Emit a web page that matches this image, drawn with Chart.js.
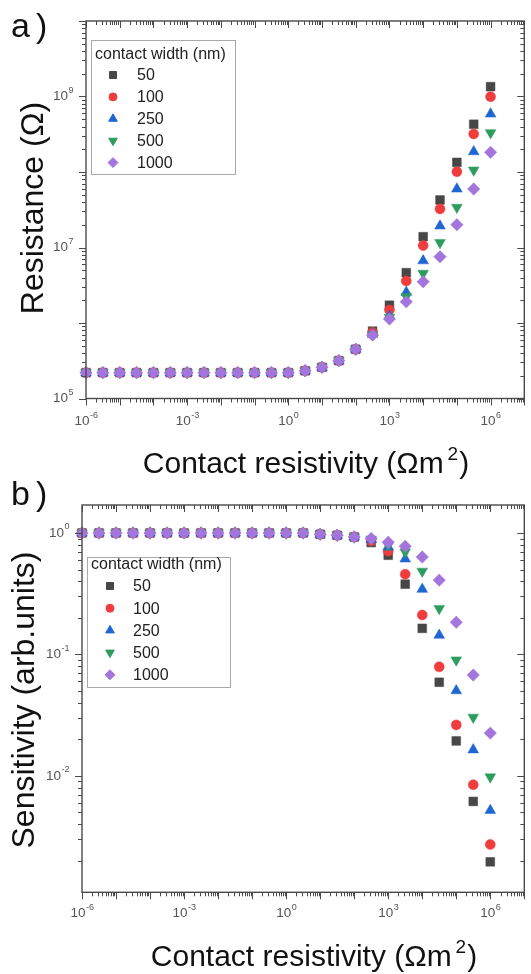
<!DOCTYPE html>
<html>
<head>
<meta charset="utf-8">
<script src="https://cdn.jsdelivr.net/npm/chart.js@4.4.1/dist/chart.umd.min.js"></script>
<style>
  html, body { margin: 0; padding: 0; background: #fff; }
  #wrap { position: relative; width: 531px; height: 974px; overflow: hidden; }
  canvas { position: absolute; left: 0; }
</style>
</head>
<body>
<div id="wrap">
  <canvas id="chartR" width="531" height="480" style="top:0"></canvas>
  <canvas id="chartS" width="531" height="494" style="top:480px"></canvas>
</div>
<script>
// --- data -------------------------------------------------------------
const contactRes = [1e-6, 3.16e-6, 1e-5, 3.16e-5, 1e-4, 3.16e-4, 1e-3, 3.16e-3, 1e-2, 3.16e-2,
                    0.1, 0.316, 1, 3.16, 10, 31.6, 100, 316, 1e3, 3.16e3, 1e4, 3.16e4, 1e5, 3.16e5, 1e6];
const widths = ["50", "100", "250", "500", "1000"];

// a) Resistance (Ω)
const res50   = [2.2e5, 2.2e5, 2.2e5, 2.2e5, 2.2e5, 2.2e5, 2.2e5, 2.2e5, 2.2e5, 2.2e5, 2.2e5, 2.2e5, 2.2e5,
                 2.33e5, 2.59e5, 3.17e5, 4.49e5, 7.8e5, 1.72e6, 4.64e6, 1.39e7, 4.26e7, 1.34e8, 4.29e8, 1.35e9];
const res100  = [2.2e5, 2.2e5, 2.2e5, 2.2e5, 2.2e5, 2.2e5, 2.2e5, 2.2e5, 2.2e5, 2.2e5, 2.2e5, 2.2e5, 2.2e5,
                 2.33e5, 2.59e5, 3.17e5, 4.49e5, 7.5e5, 1.49e6, 3.6e6, 1.06e7, 3.24e7, 1.01e8, 3.19e8, 9.93e8];
const res250  = [2.2e5, 2.2e5, 2.2e5, 2.2e5, 2.2e5, 2.2e5, 2.2e5, 2.2e5, 2.2e5, 2.2e5, 2.2e5, 2.2e5, 2.2e5,
                 2.33e5, 2.59e5, 3.17e5, 4.49e5, 7.1e5, 1.23e6, 2.55e6, 6.68e6, 1.93e7, 5.96e7, 1.86e8, 5.87e8];
const res500  = [2.2e5, 2.2e5, 2.2e5, 2.2e5, 2.2e5, 2.2e5, 2.2e5, 2.2e5, 2.2e5, 2.2e5, 2.2e5, 2.2e5, 2.2e5,
                 2.33e5, 2.59e5, 3.17e5, 4.49e5, 7.0e5, 1.19e6, 2.23e6, 4.55e6, 1.16e7, 3.4e7, 1.06e8, 3.31e8];
const res1000 = [2.2e5, 2.2e5, 2.2e5, 2.2e5, 2.2e5, 2.2e5, 2.2e5, 2.2e5, 2.2e5, 2.2e5, 2.2e5, 2.2e5, 2.2e5,
                 2.33e5, 2.59e5, 3.17e5, 4.49e5, 6.9e5, 1.13e6, 1.91e6, 3.52e6, 7.55e6, 2.0e7, 5.96e7, 1.82e8];

// b) Sensitivity (arb. units)
const sens50   = [1, 1, 1, 1, 1, 1, 1, 1, 1, 1, 1, 1, 1, 1,
                  0.976, 0.957, 0.927, 0.834, 0.656, 0.379, 0.164, 0.059, 0.0194, 0.00616, 0.00196];
const sens100  = [1, 1, 1, 1, 1, 1, 1, 1, 1, 1, 1, 1, 1, 1,
                  0.976, 0.957, 0.927, 0.86, 0.707, 0.458, 0.211, 0.079, 0.0263, 0.00845, 0.00272];
const sens250  = [1, 1, 1, 1, 1, 1, 1, 1, 1, 1, 1, 1, 1, 1,
                  0.976, 0.957, 0.927, 0.88, 0.767, 0.612, 0.344, 0.144, 0.0503, 0.0164, 0.0052];
const sens500  = [1, 1, 1, 1, 1, 1, 1, 1, 1, 1, 1, 1, 1, 1,
                  0.976, 0.957, 0.927, 0.89, 0.79, 0.698, 0.484, 0.239, 0.09, 0.0304, 0.0098];
const sens1000 = [1, 1, 1, 1, 1, 1, 1, 1, 1, 1, 1, 1, 1, 1,
                  0.976, 0.957, 0.927, 0.90, 0.84, 0.778, 0.635, 0.409, 0.184, 0.0677, 0.0225];

const xLabelExps  = [-6, -3, 0, 3, 6];
const yLabelExpsA = [5, 7, 9];
const yLabelExpsB = [0, -1, -2];

// --- styles ------------------------------------------------------------
const FONT = '"Liberation Sans", Arial, sans-serif';
const AXIS = "#4a4a4a";
const TICKTXT = "#555";
const marks = [
  { color: "#474747", style: "rect",     rot: 0,   r: 6.2 },
  { color: "#ef3d3d", style: "circle",   rot: 0,   r: 5 },
  { color: "#1f66d3", style: "triangle", rot: 0,   r: 6.2 },
  { color: "#2e9c60", style: "triangle", rot: 180, r: 6.2 },
  { color: "#a475dc", style: "rectRot",  rot: 0,   r: 6.2 },
];

function makeSets(series) {
  return series.map((vals, i) => ({
    label: widths[i],
    data: contactRes.map((x, k) => ({ x, y: vals[k] })),
    showLine: false,
    pointStyle: marks[i].style,
    pointRotation: marks[i].rot,
    pointRadius: marks[i].r,
    pointBackgroundColor: marks[i].color,
    pointBorderColor: marks[i].color,
    pointBorderWidth: 0.5,
    order: series.length - i,   // 1000 drawn on top
    clip: false,
  }));
}

// log tick positions 1..9 x 10^e inside [min,max]
function logTicks(min, max) {
  const out = [];
  for (let e = Math.floor(Math.log10(min)); e <= Math.ceil(Math.log10(max)); e++) {
    for (let m = 1; m <= 9; m++) {
      const v = m * Math.pow(10, e);
      if (v >= min * 0.9999 && v <= max * 1.0001) out.push({ v, major: m === 1, e });
    }
  }
  return out;
}

// "10" with raised exponent; align "center" or "right"
function powLabel(ctx, x, y, exp, align) {
  ctx.font = "13.5px " + FONT;
  const wb = ctx.measureText("10").width;
  ctx.font = "9px " + FONT;
  const sup = String(exp);
  const ws = ctx.measureText(sup).width;
  const x0 = align === "center" ? x - (wb + ws) / 2 : x - wb - ws;
  ctx.textAlign = "left";
  ctx.textBaseline = "middle";
  ctx.fillStyle = TICKTXT;
  ctx.font = "13.5px " + FONT;
  ctx.fillText("10", x0, y);
  ctx.font = "9px " + FONT;
  ctx.fillText(sup, x0 + wb + 0.5, y - 6);
}

// frame, Origin-style ticks, labels, titles and legend box
const frameAxes = {
  id: "frameAxes",
  afterDatasetsDraw(chart, args, o) {
    const { ctx, chartArea: a, scales: { x, y } } = chart;
    ctx.save();
    ctx.strokeStyle = AXIS;
    ctx.lineWidth = 1.4;
    ctx.strokeRect(a.left, a.top, a.right - a.left, a.bottom - a.top);
    ctx.lineWidth = 1;
    ctx.beginPath();
    logTicks(x.min, x.max).forEach(t => {
      const px = Math.round(x.getPixelForValue(t.v)) + 0.5;
      const len = t.major ? 7 : 4;
      ctx.moveTo(px, a.bottom); ctx.lineTo(px, a.bottom + len);   // outward
      ctx.moveTo(px, a.top);    ctx.lineTo(px, a.top + len);      // mirror, inward
    });
    logTicks(y.min, y.max).forEach(t => {
      const py = Math.round(y.getPixelForValue(t.v)) + 0.5;
      const len = t.major ? 7 : 4;
      ctx.moveTo(a.left, py);  ctx.lineTo(a.left - len, py);
      ctx.moveTo(a.right, py); ctx.lineTo(a.right - len, py);
    });
    ctx.stroke();

    xLabelExps.forEach(e => powLabel(ctx, x.getPixelForValue(Math.pow(10, e)), a.bottom + o.xLabGap, e, "center"));
    o.yLabels.forEach(e => powLabel(ctx, a.left - 13, y.getPixelForValue(Math.pow(10, e)), e, "right"));

    // x title with superscript 2
    ctx.fillStyle = "#111";
    ctx.textBaseline = "alphabetic";
    ctx.textAlign = "left";
    const big = o.titleSize + "px " + FONT, small = Math.round(o.titleSize * 0.62) + "px " + FONT;
    ctx.font = big;
    const p1 = "Contact resistivity (\u03a9m", p3 = ")";
    const w1 = ctx.measureText(p1).width, w3 = ctx.measureText(p3).width;
    ctx.font = small;
    const w2 = ctx.measureText("2").width;
    const tw = w1 + 4 + w2 + 1 + w3;
    let tx = o.xTitleX - tw / 2;
    ctx.font = big;   ctx.fillText(p1, tx, o.xTitleY);
    ctx.font = small; ctx.fillText("2", tx + w1 + 4, o.xTitleY - o.titleSize * 0.42);
    ctx.font = big;   ctx.fillText(p3, tx + w1 + 4 + w2 + 1, o.xTitleY);

    // y title
    ctx.save();
    ctx.translate(o.yTitleX, o.yTitleY);
    ctx.rotate(-Math.PI / 2);
    ctx.textAlign = "center";
    ctx.font = o.yTitleSize + "px " + FONT;
    ctx.fillText(o.yTitle, 0, 0);
    ctx.restore();

    // panel letter
    ctx.font = "34px " + FONT;
    ctx.fillText(o.letter, 11, o.letterY);
    ctx.fillText(")", 36, o.letterY);

    // legend
    const L = o.legend;
    ctx.fillStyle = "#fff";
    ctx.fillRect(L.x, L.y, L.w, L.h);
    ctx.strokeStyle = "#a8a8a8";
    ctx.lineWidth = 1;
    ctx.strokeRect(L.x + 0.5, L.y + 0.5, L.w, L.h);
    ctx.fillStyle = "#222";
    ctx.textBaseline = "middle";
    ctx.font = "16px " + FONT;
    ctx.fillText("contact width (nm)", L.x + 4, L.titleY);
    chart.data.datasets.forEach((ds, i) => {
      const yy = L.row0 + i * L.step;
      ctx.fillStyle = ds.pointBackgroundColor;
      ctx.strokeStyle = ds.pointBorderColor;
      Chart.helpers.drawPoint(ctx, { pointStyle: ds.pointStyle, rotation: ds.pointRotation,
        radius: ds.pointRadius * 0.8, borderWidth: 0.5 }, L.markX, yy);
      ctx.fillStyle = "#222";
      ctx.fillText(ds.label, L.textX, yy + 1);
    });
    ctx.restore();
  }
};

function logAxis(min, max) {
  return { type: "logarithmic", min, max, display: false };
}

function buildChart(id, series, yMin, yMax, pad, plug) {
  return new Chart(document.getElementById(id), {
    type: "scatter",
    data: { datasets: makeSets(series) },
    options: {
      responsive: false,
      animation: false,
      events: [],
      layout: { padding: pad },
      scales: { x: logAxis(1e-6, 1e7), y: logAxis(yMin, yMax) },
      plugins: { legend: { display: false }, tooltip: { enabled: false }, frameAxes: plug },
    },
    plugins: [frameAxes],
  });
}

buildChart("chartR", [res50, res100, res250, res500, res1000], 1e5, 1e10,
  { left: 86, right: 1, top: 21, bottom: 81.5 },
  { yLabels: yLabelExpsA, xLabGap: 23, titleSize: 30, xTitleX: 306, xTitleY: 473,
    yTitle: "Resistance (\u03a9)", yTitleSize: 32, yTitleX: 43, yTitleY: 208,
    letter: "a", letterY: 37,
    legend: { x: 91, y: 40, w: 144, h: 134, titleY: 55, row0: 75, step: 21.9, markX: 113, textX: 137 } });

buildChart("chartS", [sens50, sens100, sens250, sens500, sens1000], 1.1e-3, 1.7,
  { left: 82, right: 1, top: 25, bottom: 81.7 },
  { yLabels: yLabelExpsB, xLabGap: 21, titleSize: 30, xTitleX: 314, xTitleY: 486,
    yTitle: "Sensitivity (arb.units)", yTitleSize: 32, yTitleX: 34, yTitleY: 220,
    letter: "b", letterY: 25,
    legend: { x: 87, y: 77, w: 143, h: 130, titleY: 85, row0: 106, step: 22.2, markX: 110, textX: 133 } });
</script>
</body>
</html>
